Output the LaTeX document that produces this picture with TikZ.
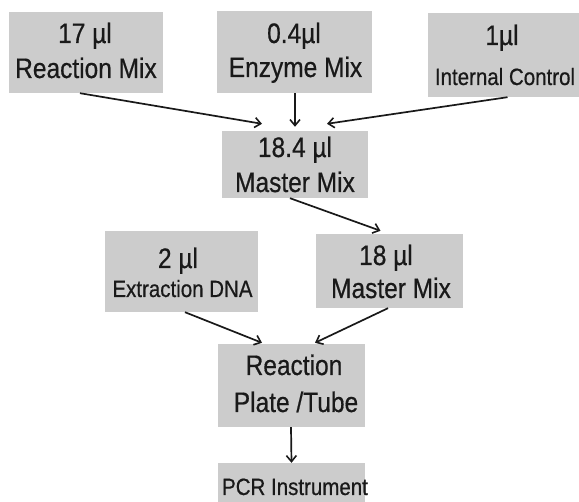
\documentclass[tikz,border=0pt]{standalone}
\usepackage{fontspec}
\setmainfont{Liberation Sans}[FakeBold=0.6]
\usetikzlibrary{arrows.meta}
\definecolor{boxgray}{RGB}{204,204,204}
\definecolor{ink}{RGB}{25,25,25}
\tikzset{
  box/.style={fill=boxgray, draw=none, inner sep=0pt, anchor=center},
  big/.style={anchor=base, inner sep=0pt, text=ink, font=\fontsize{24.5}{28}\selectfont},
  small/.style={anchor=base, inner sep=0pt, text=ink, font=\fontsize{20.5}{24}\selectfont},
  conn/.style={draw=ink, line width=1.7pt, -{Straight Barb[length=6pt,width=10pt,line width=1.6pt]}}
}
\newcommand{\stx}[1]{\scalebox{1}[1.15]{#1}}
\begin{document}
\begin{tikzpicture}[x=1pt,y=-1pt]
\useasboundingbox (0,0) rectangle (579,502);
% boxes
\node[box, minimum width=154pt, minimum height=81pt] (b1) at (86,52.5) {};
\node[box, minimum width=155pt, minimum height=82pt] (b2) at (294.5,52) {};
\node[box, minimum width=157pt, minimum height=84pt] (b3) at (506.5,55) {};
\node[box, minimum width=146pt, minimum height=67pt] (b4) at (295,164.5) {};
\node[box, minimum width=153pt, minimum height=81pt] (b5) at (181.5,271.5) {};
\node[box, minimum width=147pt, minimum height=74pt] (b6) at (389.5,271) {};
\node[box, minimum width=147pt, minimum height=83pt] (b7) at (291.5,385.5) {};
\node[box, minimum width=147pt, minimum height=52pt] (b8) at (291.5,489) {};
% texts
\node[big] (t1a) at (85,43) {\stx{17 µl}};
\node[big] (t1b) at (86,78) {\stx{Reaction Mix}};
\node[big] (t2a) at (294,43) {\stx{0.4µl}};
\node[big] (t2b) at (295.5,77) {\stx{Enzyme Mix}};
\node[big] (t3a) at (502,45) {\stx{1µl}};
\node[small] (t3b) at (505,85) {\stx{Internal Control}};
\node[big] (t4a) at (295,157) {\stx{18.4 µl}};
\node[big] (t4b) at (295,192) {\stx{Master Mix}};
\node[big] (t5a) at (178,268) {\stx{2 µl}};
\node[small] (t5b) at (182.5,297) {\stx{Extraction DNA}};
\node[big] (t6a) at (386,265) {\stx{18 µl}};
\node[big] (t6b) at (391,298) {\stx{Master Mix}};
\node[big] (t7a) at (294,375) {\stx{Reaction}};
\node[big] (t7b) at (296,412) {\stx{Plate /Tube}};
\node[small] (t8) at (295,495) {\stx{PCR Instrument}};
% connectors
\draw[conn] ([xshift=-6pt]b1.south) -- ([xshift=-33pt,yshift=7pt]b4.north);
\draw[conn] ([xshift=0.5pt]b2.south) -- ([yshift=4pt]b4.north);
\draw[conn] ([xshift=1pt]b3.south) -- ([xshift=32pt,yshift=7pt]b4.north);
\draw[conn] ([xshift=-5pt]b4.south) -- ([xshift=-9pt,yshift=3pt]b6.north);
\draw[conn] ([xshift=3.5pt]b5.south) -- ([xshift=-29.5pt,yshift=1pt]b7.north);
\draw[conn] ([xshift=-1.5pt]b6.south) -- ([xshift=23.5pt,yshift=1pt]b7.north);
\draw[conn] ([xshift=-0.5pt]b7.south) -- (b8.north);
\end{tikzpicture}
\end{document}
